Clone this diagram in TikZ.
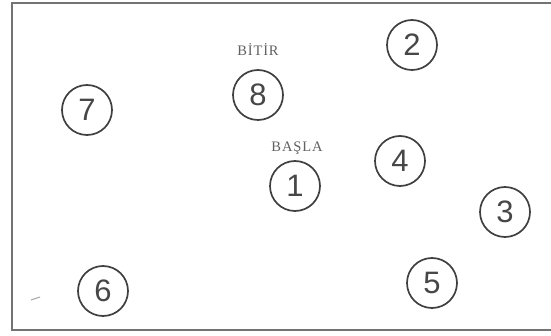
\documentclass[tikz,border=0pt]{standalone}
\usepackage{fontspec}
\setmainfont{Liberation Serif}
\newfontfamily\digitfont{Liberation Sans}
\newfontfamily\labelfont[LetterSpace=6]{Liberation Serif}
\begin{document}
\begin{tikzpicture}[x=1pt,y=-1pt,
  numnode/.style={circle,draw=black!75,line width=1.7pt,minimum size=50pt,inner sep=0pt,
    font=\digitfont\fontsize{31}{31}\selectfont,text=black!72},
  lbl/.style={font=\labelfont\fontsize{14.5}{14.5}\selectfont,text=black!62,inner sep=0pt}]
\useasboundingbox (0,0) rectangle (551,336);
\fill[white] (0,0) rectangle (551,336);
\draw[black!55,line width=2pt] (551,3) -- (12,3) -- (12,330) -- (551,330);
\node[numnode] (n2) at (412,45) {2};
\node[numnode] (n8) at (258,95) {8};
\node[numnode] (n7) at (87,110) {7};
\node[numnode] (n4) at (400,161) {4};
\node[numnode] (n1) at (295,186) {1};
\node[numnode] (n3) at (505,212) {3};
\node[numnode] (n6) at (103,291) {6};
\node[numnode] (n5) at (432,283) {5};
\node[lbl] (bitir) at (258,50) {BİTİR};
\node[lbl] (basla) at (297,148) {BAŞLA};
\draw[black!35,line width=1pt] (31,300) .. controls (35,299) .. (40,297);
\end{tikzpicture}
\end{document}
